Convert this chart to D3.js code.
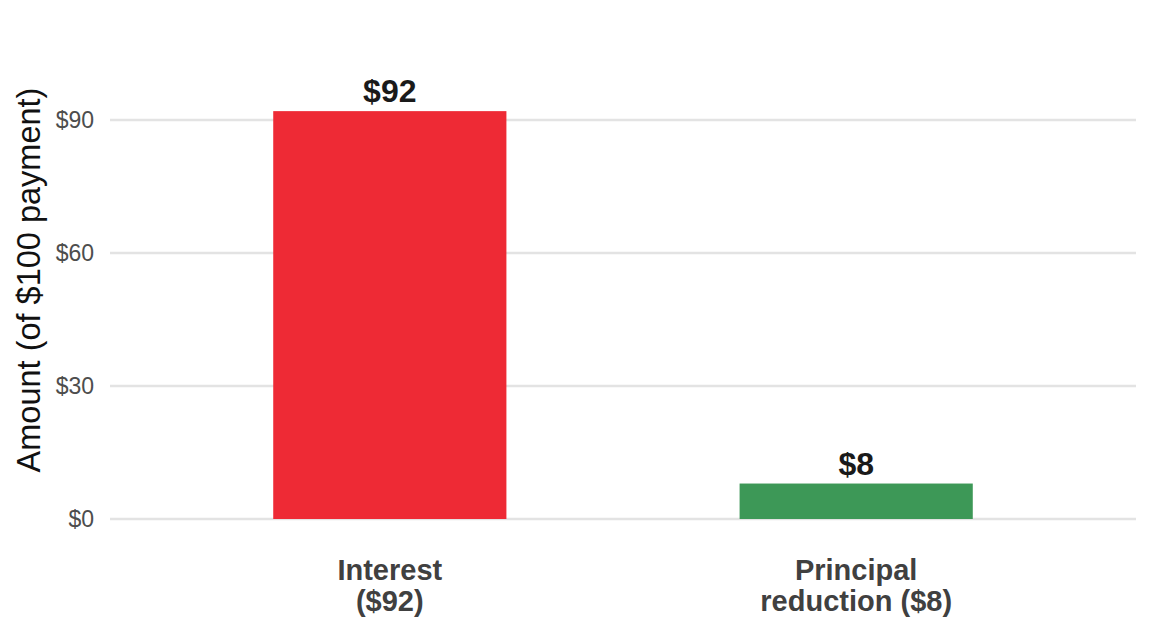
<!DOCTYPE html>
<html>
<head>
<meta charset="utf-8">
<script src="https://cdn.jsdelivr.net/npm/d3@7"></script>
<style>
  body { margin: 0; background: #fff; }
  svg { display: block; font-family: "Liberation Sans", Arial, sans-serif; }
  .grid line { stroke: #e3e3e3; stroke-width: 2.5; }
  .ytick { fill: #4d4d4d; font-size: 23px; }
  .cat { fill: #404040; font-size: 29px; font-weight: bold; }
  .val { fill: #1a1a1a; font-size: 32px; font-weight: bold; }
  .ytitle { fill: #111; font-size: 32.5px; }
</style>
</head>
<body>
<svg width="1152" height="633"></svg>
<script>
// data
var categories = ['Interest', 'Principal'];
var catLabels = [['Interest', '($92)'], ['Principal', 'reduction ($8)']];
var amounts = [92, 8];
var colors = ['#ee2a35', '#3d9857'];
var yTicks = [0, 30, 60, 90];

var svg = d3.select('svg'),
    left = 110, right = 1136,
    bottom = 519;

// ggplot-like discrete axis: 0.6 expansion each side
var x = d3.scaleLinear()
    .domain([0.4, 2.6])
    .range([left, right]);
var barW = 0.5;

var y = d3.scaleLinear()
    .domain([0, 30])
    .range([bottom, bottom - 133]);

var grid = svg.append('g').attr('class', 'grid');
grid.selectAll('line')
    .data(yTicks)
    .enter().append('line')
    .attr('x1', left).attr('x2', right)
    .attr('y1', function(d) { return y(d); })
    .attr('y2', function(d) { return y(d); });

svg.selectAll('.ytick')
    .data(yTicks)
    .enter().append('text')
    .attr('class', 'ytick')
    .attr('x', 94)
    .attr('y', function(d) { return y(d); })
    .attr('dy', '0.35em')
    .attr('text-anchor', 'end')
    .text(function(d) { return '$' + d; });

svg.append('text')
    .attr('class', 'ytitle')
    .attr('transform', 'translate(40,' + 280 + ') rotate(-90)')
    .attr('text-anchor', 'middle')
    .text('Amount (of $100 payment)');

svg.selectAll('.bar')
    .data(amounts)
    .enter().append('rect')
    .attr('class', 'bar')
    .attr('x', function(d, i) { return x(i + 1 - barW / 2); })
    .attr('width', function() { return x(1 + barW) - x(1); })
    .attr('y', function(d) { return y(d); })
    .attr('height', function(d) { return y(0) - y(d); })
    .attr('fill', function(d, i) { return colors[i]; });

svg.selectAll('.val')
    .data(amounts)
    .enter().append('text')
    .attr('class', 'val')
    .attr('x', function(d, i) { return x(i + 1); })
    .attr('y', function(d) { return y(d) - 9; })
    .attr('text-anchor', 'middle')
    .text(function(d) { return '$' + d; });

var cat = svg.selectAll('.cat')
    .data(catLabels)
    .enter().append('text')
    .attr('class', 'cat')
    .attr('text-anchor', 'middle')
    .attr('x', function(d, i) { return x(i + 1); })
    .attr('y', 580);
cat.selectAll('tspan')
    .data(function(d) { return d; })
    .enter().append('tspan')
    .attr('x', function() { return d3.select(this.parentNode).attr('x'); })
    .attr('dy', function(d, i) { return i ? 31 : 0; })
    .text(function(d) { return d; });
</script>
</body>
</html>
